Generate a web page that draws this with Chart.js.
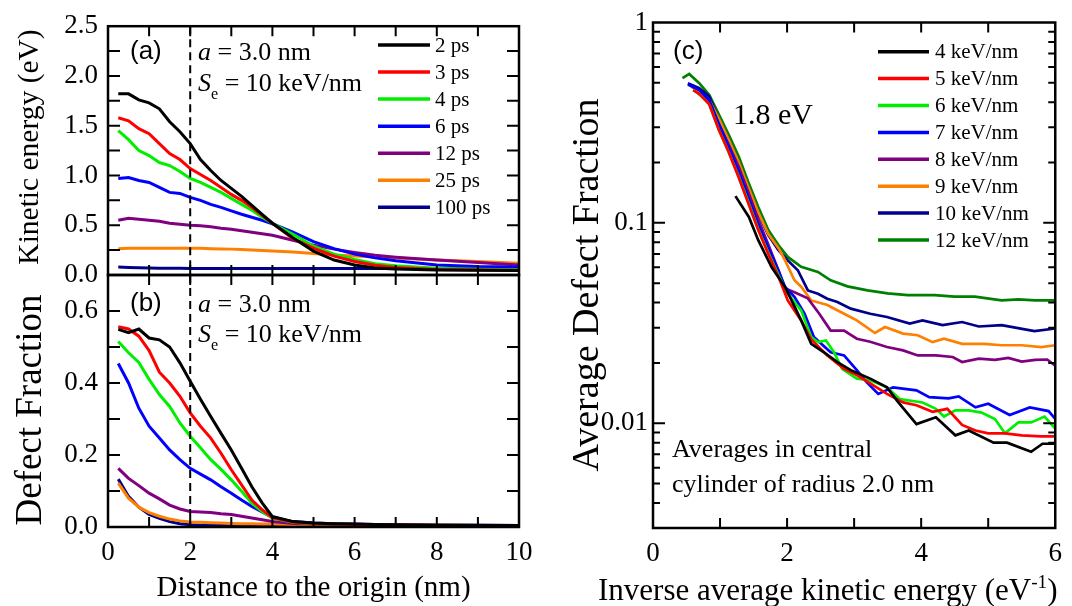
<!DOCTYPE html>
<html><head><meta charset="utf-8">
<script src="https://cdn.jsdelivr.net/npm/chart.js@4.4.0/dist/chart.umd.min.js"></script>
<style>
html,body{margin:0;padding:0;background:#fff;}
#wrap{position:relative;width:1072px;height:606px;overflow:hidden;background:#fff;}
canvas{position:absolute;left:0;top:0;}
</style></head><body>
<div id="wrap">
<canvas id="ca" width="1072" height="606"></canvas>
<canvas id="cb" width="1072" height="606"></canvas>
<canvas id="cc" width="1072" height="606"></canvas>
</div>
<script>
// ---------------- DATA ----------------
const distance = [0.25,0.5,0.75,1,1.25,1.5,1.75,2,2.25,2.5,2.75,3,3.25,3.5,3.75,4,4.5,5,5.5,6,6.5,7,8,9,10];
const timeLabels = ['2 ps','3 ps','4 ps','6 ps','12 ps','25 ps','100 ps'];

// (a) kinetic energy (eV)
const ke2ps   = [1.82,1.82,1.76,1.73,1.67,1.54,1.44,1.32,1.16,1.05,0.95,0.87,0.79,0.70,0.61,0.52,0.375,0.24,0.15,0.10,0.07,0.061,0.05,0.047,0.045];
const ke3ps   = [1.58,1.55,1.47,1.42,1.32,1.22,1.16,1.07,1.01,0.95,0.88,0.81,0.75,0.68,0.60,0.52,0.365,0.27,0.19,0.135,0.097,0.076,0.056,0.05,0.048];
const ke4ps   = [1.45,1.36,1.25,1.20,1.13,1.10,1.04,0.97,0.93,0.88,0.83,0.77,0.71,0.65,0.58,0.52,0.41,0.29,0.21,0.156,0.113,0.093,0.067,0.057,0.052];
const ke6ps   = [0.97,0.98,0.95,0.93,0.88,0.83,0.82,0.78,0.75,0.71,0.68,0.645,0.61,0.58,0.55,0.515,0.43,0.335,0.265,0.21,0.172,0.143,0.10,0.085,0.08];
const ke12ps  = [0.55,0.57,0.56,0.55,0.54,0.52,0.51,0.50,0.495,0.485,0.47,0.46,0.445,0.43,0.415,0.40,0.35,0.30,0.26,0.227,0.198,0.179,0.15,0.125,0.10];
const ke25ps  = [0.265,0.27,0.27,0.27,0.27,0.27,0.27,0.27,0.268,0.265,0.262,0.26,0.255,0.25,0.245,0.24,0.23,0.215,0.20,0.19,0.18,0.17,0.15,0.135,0.118];
const ke100ps = [0.08,0.075,0.072,0.07,0.068,0.067,0.067,0.066,0.066,0.066,0.066,0.066,0.066,0.066,0.066,0.066,0.066,0.066,0.066,0.066,0.066,0.066,0.066,0.066,0.066];

// (b) defect fraction
const df2ps   = [0.549,0.54,0.55,0.525,0.52,0.50,0.456,0.405,0.355,0.307,0.26,0.214,0.163,0.112,0.067,0.029,0.015,0.011,0.009,0.008,0.007,0.006,0.005,0.005,0.004];
const df3ps   = [0.556,0.55,0.53,0.49,0.43,0.40,0.363,0.317,0.28,0.247,0.205,0.159,0.117,0.075,0.048,0.026,0.014,0.01,0.008,0.007,0.006,0.006,0.005,0.004,0.004];
const df4ps   = [0.515,0.484,0.457,0.41,0.368,0.335,0.289,0.252,0.22,0.187,0.16,0.131,0.099,0.066,0.043,0.025,0.013,0.009,0.008,0.007,0.006,0.005,0.005,0.004,0.004];
const df6ps   = [0.454,0.40,0.33,0.28,0.247,0.214,0.187,0.163,0.147,0.131,0.112,0.094,0.075,0.057,0.042,0.027,0.015,0.011,0.009,0.008,0.007,0.006,0.005,0.005,0.004];
const df12ps  = [0.163,0.135,0.115,0.094,0.078,0.061,0.05,0.043,0.042,0.04,0.037,0.035,0.03,0.025,0.02,0.015,0.01,0.008,0.007,0.006,0.006,0.005,0.005,0.004,0.004];
const df25ps  = [0.122,0.08,0.055,0.04,0.03,0.022,0.017,0.014,0.013,0.012,0.011,0.01,0.009,0.009,0.008,0.008,0.007,0.006,0.006,0.005,0.005,0.005,0.005,0.004,0.004];
const df100ps = [0.133,0.085,0.055,0.035,0.024,0.015,0.009,0.006,0.005,0.005,0.005,0.004,0.004,0.004,0.004,0.004,0.004,0.004,0.003,0.003,0.003,0.003,0.003,0.003,0.003];

// (c) average defect fraction vs inverse average kinetic energy
const stopLabels = ['4 keV/nm','5 keV/nm','6 keV/nm','7 keV/nm','8 keV/nm','9 keV/nm','10 keV/nm','12 keV/nm'];
const c4x  = [1.23,1.43,1.57,1.77,1.97,2.21,2.36,2.55,2.75,2.95,3.24,3.49,3.66,3.93,4.22,4.51,4.71,5.08,5.28,5.64,5.81,6.0];
const c4y  = [0.136,0.107,0.082,0.06,0.0479,0.0326,0.0249,0.0226,0.0202,0.0184,0.0167,0.0151,0.0127,0.0099,0.0107,0.0087,0.0092,0.008,0.008,0.0072,0.0079,0.0079];
const c5x  = [0.6,0.69,0.84,0.985,1.13,1.28,1.43,1.57,1.72,1.87,2.01,2.21,2.36,2.6,2.85,3.04,3.24,3.49,3.73,3.93,4.17,4.39,4.61,4.81,5.0,5.25,5.5,5.79,6.0];
const c5y  = [0.46,0.44,0.39,0.29,0.225,0.168,0.123,0.092,0.07,0.054,0.041,0.0326,0.0262,0.0218,0.0187,0.0174,0.0158,0.014,0.0127,0.0123,0.0114,0.0118,0.0098,0.0092,0.0089,0.0089,0.0087,0.0086,0.0086];
const c6x  = [0.6,0.69,0.84,0.985,1.13,1.28,1.43,1.57,1.72,1.87,2.01,2.21,2.36,2.46,2.58,2.7,2.82,3.04,3.24,3.49,3.68,4.02,4.22,4.34,4.51,4.71,4.9,5.1,5.25,5.45,5.64,5.84,6.0];
const c6y  = [0.46,0.44,0.39,0.29,0.225,0.17,0.125,0.093,0.071,0.055,0.0443,0.0366,0.0269,0.0254,0.0259,0.0226,0.0187,0.0167,0.0164,0.0151,0.0132,0.0127,0.0118,0.0108,0.0116,0.0116,0.0113,0.0105,0.0089,0.0101,0.0101,0.0108,0.0094];
const c7x  = [0.52,0.69,0.84,0.985,1.13,1.28,1.43,1.57,1.72,1.87,1.97,2.11,2.26,2.4,2.65,2.85,3.04,3.19,3.36,3.58,3.93,4.12,4.41,4.56,4.81,5.0,5.32,5.62,5.9,6.0];
const c7y  = [0.49,0.46,0.41,0.31,0.24,0.18,0.132,0.098,0.075,0.058,0.0479,0.0427,0.0352,0.0269,0.0226,0.0218,0.0184,0.016,0.014,0.0151,0.0146,0.0135,0.0133,0.0136,0.012,0.0125,0.011,0.012,0.0115,0.0105];
const c8x  = [0.67,0.84,0.985,1.13,1.28,1.43,1.57,1.72,1.87,1.97,2.11,2.31,2.48,2.65,2.85,3.04,3.24,3.49,3.73,3.95,4.22,4.47,4.61,4.86,5.1,5.3,5.5,5.7,5.88,6.0];
const c8y  = [0.444,0.4,0.31,0.245,0.19,0.14,0.104,0.078,0.058,0.047,0.045,0.042,0.0352,0.029,0.029,0.0264,0.0255,0.024,0.0231,0.0218,0.0218,0.0214,0.0202,0.021,0.0207,0.0212,0.0203,0.0207,0.0208,0.0194];
const c9x  = [0.57,0.69,0.84,0.985,1.13,1.28,1.43,1.57,1.72,1.87,1.97,2.11,2.21,2.36,2.6,2.85,3.04,3.31,3.46,3.73,3.95,4.17,4.34,4.61,4.94,5.2,5.5,5.79,6.0];
const c9y  = [0.479,0.45,0.41,0.33,0.26,0.2,0.148,0.113,0.088,0.075,0.065,0.0517,0.048,0.041,0.0389,0.0352,0.0326,0.0282,0.0302,0.028,0.0275,0.0254,0.0264,0.0249,0.0249,0.0245,0.0245,0.024,0.0245];
const c10x = [0.52,0.69,0.84,0.985,1.13,1.28,1.43,1.57,1.72,1.87,2.01,2.16,2.31,2.46,2.6,2.75,2.95,3.24,3.49,3.83,4.02,4.32,4.61,4.86,5.2,5.69,6.0];
const c10y = [0.498,0.47,0.427,0.326,0.259,0.198,0.146,0.111,0.087,0.073,0.065,0.058,0.046,0.0443,0.0418,0.0403,0.0373,0.0352,0.0339,0.0314,0.0326,0.0309,0.032,0.0304,0.0309,0.0288,0.0297];
const c12x = [0.44,0.54,0.69,0.84,0.985,1.13,1.28,1.43,1.57,1.72,1.87,2.01,2.21,2.46,2.65,2.9,3.2,3.5,3.8,4.2,4.5,4.8,5.2,5.45,5.7,6.0];
const c12y = [0.527,0.554,0.498,0.435,0.346,0.275,0.214,0.157,0.12,0.092,0.0775,0.0676,0.0603,0.0569,0.0517,0.0482,0.046,0.0445,0.0436,0.0436,0.0428,0.0428,0.041,0.0415,0.041,0.041];

// tick values
const distTicks = [0,2,4,6,8,10];
const distMinor = [1,3,5,7,9];
const keTicks = [0,0.5,1,1.5,2,2.5];
const keMinor = [0.25,0.5,0.75,1,1.25,1.5,1.75,2,2.25];
const dfTicks = [0,0.2,0.4,0.6];
const dfMinor = [0.1,0.2,0.3,0.4,0.5,0.6];
const invTicks = [0,2,4,6];
const invMinor = [1,2,3,4,5];
const logTicks = [0.01,0.1,1];
const logMajor = [0.01,0.1];
const logMinor = [0.004,0.005,0.006,0.007,0.008,0.009,0.02,0.03,0.04,0.05,0.06,0.07,0.08,0.09,0.2,0.3,0.4,0.5,0.6,0.7,0.8,0.9];

// ---------------- STYLE ----------------
const SERIF = "'Liberation Serif','Times New Roman',serif";
const SANS = "'Liberation Sans',Arial,sans-serif";
const timeColors = ['#000000','#ff0000','#00ee00','#0000ff','#800080','#ff8000','#00008b'];
const stopColors = ['#000000','#ff0000','#00ee00','#0000ff','#800080','#ff8000','#00008b','#008000'];

function pts(xs, ys){ return xs.map((x,i)=>({x:x, y:ys[i]})); }

function drawRich(ctx, x, y, segs, size, family){
  let cx = x;
  segs.forEach(s=>{
    const small = s.sub || s.sup;
    const sz = small ? size*0.62 : size;
    ctx.font = (s.i ? 'italic ' : '') + sz + 'px ' + family;
    const dy = s.sub ? size*0.3 : (s.sup ? -size*0.38 : 0);
    ctx.fillText(s.t, cx, y + dy);
    cx += ctx.measureText(s.t).width;
  });
}

const decor = {
  id: 'decor',
  afterDatasetsDraw(chart, args, o){
    const ctx = chart.ctx, a = chart.chartArea;
    const xs = chart.scales.x, ys = chart.scales.y;
    ctx.save();
    ctx.fillStyle = '#000'; ctx.strokeStyle = '#000';
    if (o.dashX !== undefined){
      const px = xs.getPixelForValue(o.dashX);
      ctx.setLineDash([8,5]); ctx.lineWidth = 2;
      ctx.beginPath(); ctx.moveTo(px, a.top); ctx.lineTo(px, a.bottom); ctx.stroke();
      ctx.setLineDash([]);
    }
    ctx.lineWidth = 2;
    (o.xt || []).forEach(t=>{
      t.v.forEach(v=>{
        const px = xs.getPixelForValue(v);
        ctx.beginPath();
        ctx.moveTo(px, a.bottom); ctx.lineTo(px, a.bottom - t.len);
        ctx.moveTo(px, a.top); ctx.lineTo(px, a.top + t.len);
        ctx.stroke();
      });
    });
    (o.yt || []).forEach(t=>{
      t.v.forEach(v=>{
        const py = ys.getPixelForValue(v);
        ctx.beginPath();
        ctx.moveTo(a.left, py); ctx.lineTo(a.left + t.len, py);
        ctx.moveTo(a.right, py); ctx.lineTo(a.right - t.len, py);
        ctx.stroke();
      });
    });
    ctx.lineWidth = 2.5;
    ctx.strokeRect(a.left, a.top, a.right - a.left, a.bottom - a.top);
    if (o.legend){
      const L = o.legend;
      chart.data.datasets.forEach((d,i)=>{
        const y = L.y + i*L.dy;
        ctx.strokeStyle = d.borderColor; ctx.lineWidth = 3.5;
        ctx.beginPath(); ctx.moveTo(L.x0, y); ctx.lineTo(L.x1, y); ctx.stroke();
        ctx.fillStyle = '#000';
        ctx.font = L.size + 'px ' + SERIF;
        ctx.textBaseline = 'middle';
        ctx.fillText(d.label, L.tx, y + 1);
      });
    }
    ctx.textBaseline = 'alphabetic'; ctx.fillStyle = '#000';
    (o.texts || []).forEach(t=>drawRich(ctx, t.x, t.y, t.segs, t.size, t.family || SERIF));
    (o.vtitles || []).forEach(t=>{
      ctx.save();
      ctx.translate(t.x, t.y); ctx.rotate(-Math.PI/2);
      ctx.font = t.size + 'px ' + SERIF;
      ctx.textAlign = 'center'; ctx.textBaseline = 'middle';
      ctx.fillText(t.text, 0, 0);
      ctx.restore();
    });
    ctx.restore();
  }
};

function lineDs(labels, colors, series, width){
  return labels.map((l,i)=>({label:l, data:series[i], borderColor:colors[i], backgroundColor:colors[i],
    borderWidth:width, pointRadius:0, tension:0, fill:false}));
}

const base = {responsive:false, animation:false, devicePixelRatio:1, events:[]};
const tickFont = {family:SERIF, size:27};

// ---------------- (a) ----------------
new Chart(document.getElementById('ca'), {
  type:'line',
  data:{datasets: lineDs(timeLabels, timeColors,
    [ke2ps,ke3ps,ke4ps,ke6ps,ke12ps,ke25ps,ke100ps].map(s=>pts(distance,s)), 3)},
  options:Object.assign({}, base, {
    layout:{padding:{left:0, top:22.5, right:553, bottom:331}},
    plugins:{legend:{display:false}, tooltip:{enabled:false},
      decor:{dashX:2,
        xt:[{v:distMinor.concat(distTicks), len:10}],
        yt:[{v:keMinor, len:12}],
        legend:{x0:378, x1:430, tx:435, y:45, dy:27.05, size:21},
        vtitles:[{text:'Kinetic energy (eV)', x:30, y:147, size:29.5}],
        texts:[
          {x:130, y:59, size:26, family:SANS, segs:[{t:'(a)'}]},
          {x:198, y:60, size:26, segs:[{t:'a', i:true},{t:' = 3.0 nm'}]},
          {x:198, y:91, size:26, segs:[{t:'S', i:true},{t:'e', sub:true},{t:' = 10 keV/nm'}]}
        ]}},
    scales:{
      x:{type:'linear', min:0, max:10, display:false},
      y:{type:'linear', min:0, max:2.5,
        afterFit:s=>{s.width=108;},
        afterBuildTicks:s=>{s.ticks = keTicks.map(v=>({value:v}));},
        grid:{display:false, drawTicks:false}, border:{display:false},
        ticks:{font:tickFont, color:'#000', padding:10, callback:v=>Number(v).toFixed(1)}}
    }
  }),
  plugins:[decor]
});

// ---------------- (b) ----------------
new Chart(document.getElementById('cb'), {
  type:'line',
  data:{datasets: lineDs(timeLabels, timeColors,
    [df2ps,df3ps,df4ps,df6ps,df12ps,df25ps,df100ps].map(s=>pts(distance,s)), 3)},
  options:Object.assign({}, base, {
    layout:{padding:{left:0, top:275, right:553, bottom:0}},
    plugins:{legend:{display:false}, tooltip:{enabled:false},
      decor:{dashX:2,
        xt:[{v:distMinor.concat(distTicks), len:10}],
        yt:[{v:dfMinor, len:12}],
        vtitles:[{text:'Defect Fraction', x:31, y:410, size:37}],
        texts:[
          {x:130, y:311, size:26, family:SANS, segs:[{t:'(b)'}]},
          {x:198, y:312, size:26, segs:[{t:'a', i:true},{t:' = 3.0 nm'}]},
          {x:198, y:342, size:26, segs:[{t:'S', i:true},{t:'e', sub:true},{t:' = 10 keV/nm'}]}
        ]}},
    scales:{
      x:{type:'linear', min:0, max:10,
        afterFit:s=>{s.height=79;},
        afterBuildTicks:s=>{s.ticks = distTicks.map(v=>({value:v}));},
        grid:{display:false, drawTicks:false}, border:{display:false},
        ticks:{font:tickFont, color:'#000', padding:10, maxRotation:0, callback:v=>String(v)},
        title:{display:true, text:'Distance to the origin (nm)', font:{family:SERIF, size:29}, color:'#000', padding:{top:0, bottom:0}}},
      y:{type:'linear', min:0, max:0.7,
        afterFit:s=>{s.width=108;},
        afterBuildTicks:s=>{s.ticks = dfTicks.map(v=>({value:v}));},
        grid:{display:false, drawTicks:false}, border:{display:false},
        ticks:{font:tickFont, color:'#000', padding:10, callback:v=>Number(v).toFixed(1)}}
    }
  }),
  plugins:[decor]
});

// ---------------- (c) ----------------
const cSeries = [pts(c4x,c4y),pts(c5x,c5y),pts(c6x,c6y),pts(c7x,c7y),pts(c8x,c8y),pts(c9x,c9y),pts(c10x,c10y),pts(c12x,c12y)];
new Chart(document.getElementById('cc'), {
  type:'line',
  data:{datasets: lineDs(stopLabels, stopColors, cSeries, 2.7)},
  options:Object.assign({}, base, {
    layout:{padding:{left:553, top:22.5, right:11, bottom:0}},
    plugins:{legend:{display:false}, tooltip:{enabled:false},
      decor:{
        xt:[{v:invMinor, len:10}],
        yt:[{v:logMajor, len:12},{v:logMinor, len:7}],
        legend:{x0:878, x1:929, tx:935, y:51.7, dy:26.9, size:21},
        vtitles:[{text:'Average Defect Fraction', x:588, y:285, size:38}],
        texts:[
          {x:673, y:59, size:26, family:SANS, segs:[{t:'(c)'}]},
          {x:733, y:124, size:30, segs:[{t:'1.8 eV'}]},
          {x:672, y:457, size:26, segs:[{t:'Averages in central'}]},
          {x:672, y:492, size:26, segs:[{t:'cylinder of radius 2.0 nm'}]},
          {x:598, y:600, size:31, segs:[{t:'Inverse average kinetic energy (eV'},{t:'-1', sup:true},{t:')'}]}
        ]}},
    scales:{
      x:{type:'linear', min:0, max:6,
        afterFit:s=>{s.height=78;},
        afterBuildTicks:s=>{s.ticks = invTicks.map(v=>({value:v}));},
        grid:{display:false, drawTicks:false}, border:{display:false},
        ticks:{font:tickFont, color:'#000', padding:10, maxRotation:0, callback:v=>String(v)}},
      y:{type:'logarithmic', min:0.003, max:1,
        afterFit:s=>{s.width=100;},
        afterBuildTicks:s=>{s.ticks = logTicks.map(v=>({value:v}));},
        grid:{display:false, drawTicks:false}, border:{display:false},
        ticks:{font:tickFont, color:'#000', padding:5, callback:v=>String(v)}}
    }
  }),
  plugins:[decor]
});
</script>
</body></html>
